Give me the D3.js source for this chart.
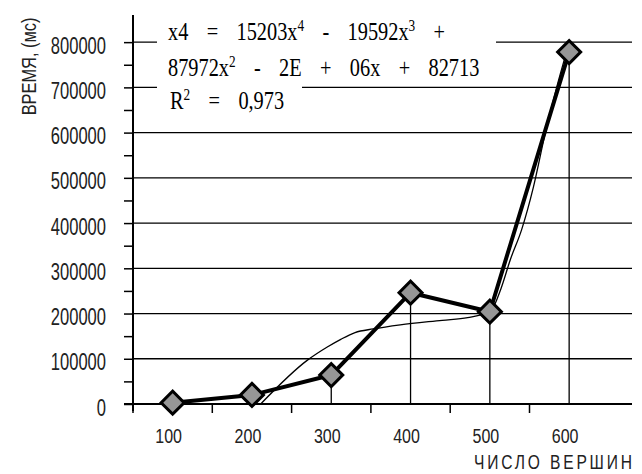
<!DOCTYPE html>
<html>
<head>
<meta charset="utf-8">
<script src="https://cdn.jsdelivr.net/npm/d3@7"></script>
<style>
  body { margin: 0; background: #fff; }
  svg { display: block; }
  .sans { font-family: "Liberation Sans", Arial, sans-serif; }
  .serif { font-family: "Liberation Serif", "Times New Roman", serif; }
</style>
</head>
<body>
<script>
// data
var categories = ['100', '200', '300', '400', '500', '600'];
var timeMs = [3000, 20000, 64000, 246000, 204000, 778000];

// trendline (4th order polynomial), x = category index 1..6
var trendX = [2.11, 2.70, 2.95, 3.12, 3.30, 3.53, 3.87, 4.40, 4.72, 5.01, 5.14, 5.26, 5.40, 5.55, 5.70, 5.85, 5.96];
var trendY = [0, 97000, 126000, 143000, 158000, 166000, 175000, 185000, 191000, 206000, 255000, 320000, 385000, 480000, 600000, 705000, 774000];

var yTicks = d3.range(0, 800001, 50000);
var gridValues = d3.range(100000, 800001, 100000);

var equationLines = [
  [['x4 = 15203x', 0], ['4', 1], [' - 19592x', 0], ['3', 1], [' +', 0]],
  [['87972x', 0], ['2', 1], [' - 2E + 06x + 82713', 0]],
  [['R', 0], ['2', 1], [' = 0,973', 0]]
];

var width = 642;
var height = 474;
var plotLeft = 133;
var plotRight = 632;
var plotTop = 15;
var plotBottom = 404;

var svg = d3.select('body').append('svg')
  .attr('width', width)
  .attr('height', height);

var y = d3.scaleLinear()
  .domain([0, 860000])
  .range([plotBottom, plotTop]);

var x = d3.scaleBand()
  .domain(categories)
  .range([plotLeft, plotLeft + 6 * 79.3])
  .padding(0);

function xMid(d) {
  return x(d) + x.bandwidth() / 2;
}

// index scale for the trendline, built on the band centres
var xIdx = d3.scaleLinear()
  .domain([1, 6])
  .range([xMid(categories[0]), xMid(categories[5])]);

// gridlines
svg.append('g').selectAll('line')
  .data(gridValues)
  .enter().append('line')
    .attr('x1', plotLeft)
    .attr('x2', plotRight)
    .attr('y1', function(d) { return y(d); })
    .attr('y2', function(d) { return y(d); })
    .attr('stroke', '#000')
    .attr('stroke-width', 1.3);

// white boxes behind the equation
var boxes = [[157, 14, 339, 66], [157, 80, 145, 34]];
svg.append('g').selectAll('rect')
  .data(boxes)
  .enter().append('rect')
    .attr('x', function(d) { return d[0]; })
    .attr('y', function(d) { return d[1]; })
    .attr('width', function(d) { return d[2]; })
    .attr('height', function(d) { return d[3]; })
    .attr('fill', '#fff');

var eqBaselines = [40, 75.7, 109];
var eqStarts = [168, 168, 170];
var eqScale = 0.83;

equationLines.forEach(function(parts, i) {
  var t = svg.append('text')
    .attr('class', 'serif')
    .attr('transform', 'translate(' + eqStarts[i] + ',' + eqBaselines[i] + ') scale(' + eqScale + ',1)')
    .attr('font-size', 24.5)
    .attr('fill', '#000')
    .style('word-spacing', '16px');
  parts.forEach(function(p) {
    var ts = t.append('tspan').text(p[0]);
    if (p[1]) {
      ts.attr('font-size', 16).attr('baseline-shift', '9px');
    }
  });
});

// drop lines
svg.append('g').selectAll('line')
  .data(categories)
  .enter().append('line')
    .attr('x1', xMid)
    .attr('x2', xMid)
    .attr('y1', function(d, i) { return y(timeMs[i]); })
    .attr('y2', plotBottom)
    .attr('stroke', '#000')
    .attr('stroke-width', 1.3);

// trendline
var trendLine = d3.line()
  .x(function(d) { return xIdx(d[0]); })
  .y(function(d) { return y(d[1]); })
  .curve(d3.curveMonotoneX);

svg.append('path')
  .datum(d3.zip(trendX, trendY))
  .attr('d', trendLine)
  .attr('fill', 'none')
  .attr('stroke', '#000')
  .attr('stroke-width', 1.3);

// data line
var dataLine = d3.line()
  .x(function(d) { return xMid(d[0]); })
  .y(function(d) { return y(d[1]); });

svg.append('path')
  .datum(d3.zip(categories, timeMs))
  .attr('d', dataLine)
  .attr('fill', 'none')
  .attr('stroke', '#000')
  .attr('stroke-width', 4)
  .attr('stroke-linejoin', 'round');

// axes
var yAxis = d3.axisLeft(y)
  .tickValues(yTicks)
  .tickSize(9)
  .tickSizeOuter(0)
  .tickFormat(function(d) { return d % 100000 === 0 ? String(d) : ''; });

var yAxisG = svg.append('g')
  .attr('transform', 'translate(' + plotLeft + ',0)')
  .call(yAxis);

var yLabelScale = 0.72;
yAxisG.select('.domain').remove();
yAxisG.selectAll('.tick line')
  .attr('stroke', '#000')
  .attr('stroke-width', 1.5);
yAxisG.selectAll('.tick text')
  .attr('class', 'sans')
  .attr('font-size', 23)
  .attr('fill', '#222')
  .attr('transform', 'scale(' + yLabelScale + ',1)')
  .attr('x', -27 / yLabelScale)
  .attr('dy', null)
  .attr('y', 11);

var xAxis = d3.axisBottom(x)
  .tickSize(0)
  .tickSizeOuter(0);

var xAxisG = svg.append('g')
  .attr('transform', 'translate(0,' + plotBottom + ')')
  .call(xAxis);

var xLabelScale = 0.8;
xAxisG.select('.domain').remove();
xAxisG.selectAll('.tick text')
  .attr('class', 'sans')
  .attr('font-size', 20)
  .attr('fill', '#222')
  .attr('transform', 'scale(' + xLabelScale + ',1)')
  .attr('dy', null)
  .attr('y', 39)
  .attr('x', -4 / xLabelScale);

// band boundary ticks
svg.append('g').selectAll('line')
  .data(categories)
  .enter().append('line')
    .attr('x1', function(d) { return x(d); })
    .attr('x2', function(d) { return x(d); })
    .attr('y1', plotBottom)
    .attr('y2', plotBottom + 9)
    .attr('stroke', '#000')
    .attr('stroke-width', 1.5);

// axis lines
svg.append('line')
  .attr('x1', plotLeft).attr('x2', plotLeft)
  .attr('y1', plotTop).attr('y2', plotBottom + 7)
  .attr('stroke', '#000')
  .attr('stroke-width', 2);

svg.append('line')
  .attr('x1', plotLeft - 9).attr('x2', plotRight)
  .attr('y1', plotBottom).attr('y2', plotBottom)
  .attr('stroke', '#000')
  .attr('stroke-width', 2);

// markers
svg.append('g').selectAll('path')
  .data(d3.zip(categories, timeMs))
  .enter().append('path')
    .attr('d', d3.symbol(d3.symbolSquare, 265))
    .attr('transform', function(d) {
      return 'translate(' + xMid(d[0]) + ',' + y(d[1]) + ') rotate(45)';
    })
    .attr('fill', '#969696')
    .attr('stroke', '#000')
    .attr('stroke-width', 3);

// axis titles
svg.append('text')
  .attr('class', 'sans')
  .attr('transform', 'translate(36,66.5) rotate(-90) scale(0.8,1)')
  .attr('text-anchor', 'middle')
  .attr('font-size', 20.5)
  .attr('fill', '#222')
  .text('ВРЕМЯ, (мс)');

svg.append('text')
  .attr('class', 'sans')
  .attr('transform', 'translate(474,469) scale(0.8,1)')
  .attr('font-size', 19.5)
  .attr('fill', '#222')
  .attr('textLength', 158 / 0.8)
  .attr('lengthAdjust', 'spacing')
  .text('ЧИСЛО ВЕРШИН');
</script>
</body>
</html>
